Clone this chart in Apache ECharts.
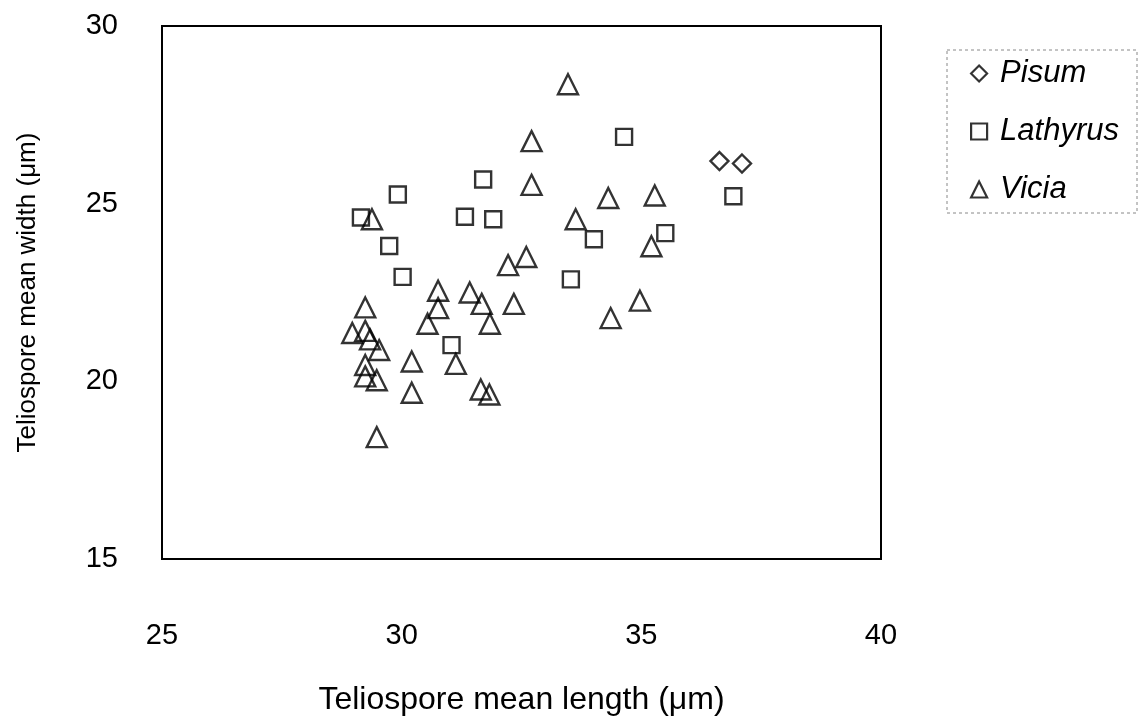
<!DOCTYPE html>
<html>
<head>
<meta charset="utf-8">
<script src="https://cdn.jsdelivr.net/npm/echarts@6/dist/echarts.min.js"></script>
<style>html,body{margin:0;padding:0;background:#fff;}#c{width:1141px;height:721px;}</style>
</head>
<body>
<div id="c"></div>
<script>
// Data: [mean length, mean width] in µm
const pisum = [[36.63, 26.20], [37.10, 26.13]];
const lathyrus = [
  [34.64, 26.88], [31.70, 25.68], [29.92, 25.26], [36.92, 25.21], [29.15, 24.61],
  [31.32, 24.63], [31.91, 24.56], [29.74, 23.81], [34.01, 24.00], [35.50, 24.17],
  [30.02, 22.94], [33.53, 22.87], [31.04, 21.02]
];
const vicia = [
  [33.47, 28.36], [32.71, 26.76], [32.71, 25.53], [34.31, 25.16], [35.28, 25.23],
  [29.38, 24.56], [33.63, 24.56], [35.21, 23.80], [32.60, 23.50], [32.22, 23.27],
  [34.97, 22.27], [34.36, 21.78],
  [29.24, 22.08], [28.97, 21.36], [29.24, 21.42], [29.34, 21.18], [29.53, 20.88],
  [29.24, 20.46], [29.24, 20.14], [29.48, 20.03], [30.21, 20.56], [30.21, 19.68],
  [29.48, 18.43], [30.76, 22.55], [30.76, 22.06], [30.54, 21.62], [31.42, 22.50],
  [31.67, 22.18], [31.84, 21.62], [32.34, 22.18], [31.13, 20.49], [31.65, 19.77],
  [31.83, 19.63]
];
const xTicks = [25, 30, 35, 40];
const yTicks = [15, 20, 25, 30];
const xTitle = 'Teliospore mean length (μm)';
const yTitle = 'Teliospore mean width (μm)';

const font = 'Liberation Sans, Arial, sans-serif';
const chart = echarts.init(document.getElementById('c'), null, {renderer: 'canvas'});
const hollow = {color: 'rgba(0,0,0,0)', borderColor: '#000', borderWidth: 2.4};
const legendHollow = {color: 'rgba(0,0,0,0)', borderColor: '#000', borderWidth: 2.2};
chart.setOption({
  animation: false,
  backgroundColor: '#fff',
  grid: {left: 162, right: 260, top: 26, bottom: 155, show: true, borderColor: '#000', borderWidth: 2, backgroundColor: 'transparent'},
  xAxis: {
    type: 'value', min: xTicks[0], max: xTicks[xTicks.length - 1], interval: 5,
    name: xTitle, nameLocation: 'middle', nameGap: 125,
    nameTextStyle: {fontFamily: font, fontSize: 32, color: '#000'},
    axisLine: {show: true, lineStyle: {color: '#000', width: 2}},
    axisTick: {show: false}, splitLine: {show: false},
    axisLabel: {fontFamily: font, fontSize: 29, color: '#000', margin: 62}
  },
  yAxis: {
    type: 'value', min: yTicks[0], max: yTicks[yTicks.length - 1], interval: 5,
    name: yTitle, nameLocation: 'middle', nameGap: 121,
    nameTextStyle: {fontFamily: font, fontSize: 26, color: '#000'},
    axisLine: {show: true, lineStyle: {color: '#000', width: 2}},
    axisTick: {show: false}, splitLine: {show: false},
    axisLabel: {fontFamily: font, fontSize: 29, color: '#000', margin: 44}
  },
  legend: {
    orient: 'vertical', left: 965, top: 53, itemGap: 27, itemWidth: 16, itemHeight: 16,
    textStyle: {fontFamily: font, fontSize: 31, fontStyle: 'italic', color: '#000', padding: [0, 0, 0, 8]},
    data: [
      {name: 'Pisum', icon: 'diamond', itemStyle: legendHollow},
      {name: 'Lathyrus', icon: 'rect', itemStyle: legendHollow},
      {name: 'Vicia', icon: 'triangle', itemStyle: legendHollow}
    ]
  },
  graphic: [{
    type: 'rect', shape: {x: 947, y: 50, width: 190, height: 163},
    style: {fill: 'none', stroke: '#888', lineWidth: 1, lineDash: [3, 3]}, silent: true
  }],
  series: [
    {name: 'Pisum', type: 'scatter', symbol: 'diamond', symbolSize: 18, data: pisum, itemStyle: hollow},
    {name: 'Lathyrus', type: 'scatter', symbol: 'rect', symbolSize: 16, data: lathyrus, itemStyle: hollow},
    {name: 'Vicia', type: 'scatter', symbol: 'triangle', symbolSize: 20, data: vicia, itemStyle: hollow}
  ]
});
</script>
</body>
</html>
